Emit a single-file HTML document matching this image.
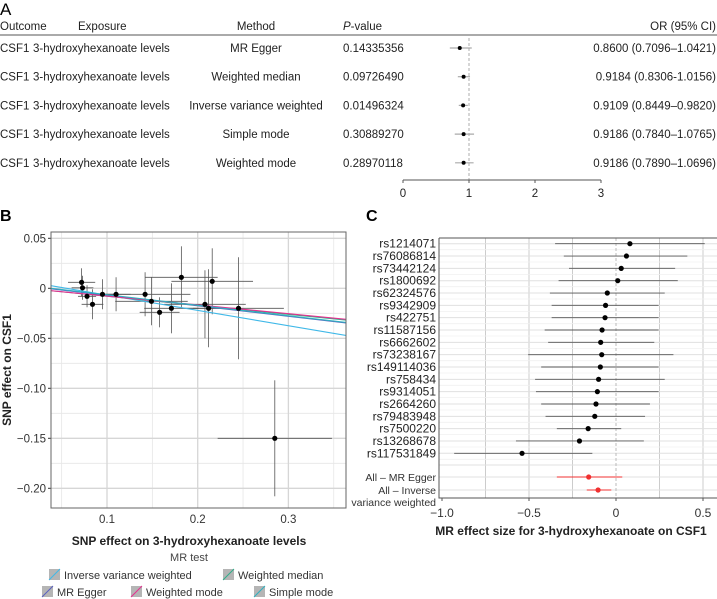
<!DOCTYPE html>
<html><head><meta charset="utf-8"><style>
html,body{margin:0;padding:0;background:#fff;}
svg{display:block;font-family:"Liberation Sans",sans-serif;}
</style></head><body>
<svg id="root" width="717" height="599" viewBox="0 0 717 599">
<g id="pa"></g>
<g id="pb"></g>
<g id="pc"></g>
</svg>
<script>
// ---- Panel A data ----
const aMethods = ["MR Egger","Weighted median","Inverse variance weighted","Simple mode","Weighted mode"];
const aPvals = ["0.14335356","0.09726490","0.01496324","0.30889270","0.28970118"];
const aOR = [0.8600,0.9184,0.9109,0.9186,0.9186];
const aLo = [0.7096,0.8306,0.8449,0.7840,0.7890];
const aHi = [1.0421,1.0156,0.9820,1.0765,1.0696];
const aCI = ["0.8600 (0.7096–1.0421)","0.9184 (0.8306-1.0156)","0.9109 (0.8449–0.9820)","0.9186 (0.7840–1.0765)","0.9186 (0.7890–1.0696)"];
const aTicks = [0,1,2,3];
// ---- Panel B data ----
const bX = [0.072,0.073,0.078,0.084,0.095,0.110,0.142,0.149,0.158,0.171,0.182,0.208,0.212,0.216,0.245,0.285];
const bY = [0.006,0.0005,-0.008,-0.016,-0.006,-0.006,-0.006,-0.013,-0.024,-0.020,0.011,-0.016,-0.020,0.007,-0.020,-0.150];
const bXse = [0.015,0.012,0.010,0.012,0.015,0.016,0.050,0.040,0.022,0.030,0.040,0.045,0.030,0.045,0.050,0.063];
const bYse = [0.014,0.012,0.011,0.015,0.015,0.017,0.022,0.024,0.015,0.025,0.031,0.034,0.039,0.033,0.051,0.058];
const bXTicks = [0.1,0.2,0.3];
const bYTicks = [0.05,0,-0.05,-0.10,-0.15,-0.20];
const bYTickLabels = ["0.05","0","−0.05","−0.10","−0.15","−0.20"];
const bLineNames = ["Inverse variance weighted","MR Egger","Weighted median","Weighted mode","Simple mode"];
const bLineIntercepts = [0.0085,0.0035,0.001,0.001,0.004];
const bLineSlopes = [-0.153,-0.105,-0.09,-0.088,-0.105];
const bLineColors = ["#3fb8e8","#5a5fc0","#2fae8a","#e6308f","#2fb0c0"];
// ---- Panel C data ----
const cSnps = ["rs1214071","rs76086814","rs73442124","rs1800692","rs62324576","rs9342909","rs422751","rs11587156","rs6662602","rs73238167","rs149114036","rs758434","rs9314051","rs2664260","rs79483948","rs7500220","rs13268678","rs117531849"];
const cEst = [0.08,0.06,0.03,0.01,-0.05,-0.06,-0.063,-0.08,-0.088,-0.082,-0.09,-0.10,-0.107,-0.115,-0.122,-0.16,-0.21,-0.54];
const cLo = [-0.35,-0.30,-0.27,-0.33,-0.38,-0.37,-0.37,-0.41,-0.39,-0.505,-0.43,-0.465,-0.46,-0.43,-0.405,-0.34,-0.575,-0.93];
const cHi = [0.51,0.41,0.34,0.355,0.28,0.245,0.245,0.245,0.22,0.33,0.245,0.28,0.245,0.195,0.167,0.03,0.16,-0.136];
const cSumEst = [-0.157,-0.103];
const cSumLo = [-0.34,-0.168];
const cSumHi = [0.036,-0.027];
const cXTicks = [-1.0,-0.5,0,0.5];
const cXTickLabels = ["−1.0","−0.5","0","0.5"];

const NS="http://www.w3.org/2000/svg";
function mk(parent,tag,attrs,text){const e=document.createElementNS(NS,tag);for(const k in attrs)e.setAttribute(k,attrs[k]);if(text!==undefined)e.textContent=text;parent.appendChild(e);return e;}

// ===== Panel A =====
const pa=document.getElementById('pa');
let t;
t=mk(pa,'text',{x:0,y:15,'font-size':17});t.textContent='A';

const hdr=[["Outcome",0,"start"],["Exposure",78,"start"],["Method",256,"middle"],["P-value",343,"start"],["OR (95% CI)",716,"end"]];
hdr.forEach(h=>{const e=mk(pa,'text',{x:h[1],y:30,'font-size':11.5,'text-anchor':h[2],fill:'#222'});
 if(h[0]==="P-value"){mk(e,'tspan',{'font-style':'italic'},'P');mk(e,'tspan',{},'-value');}else e.textContent=h[0];
 });
t=mk(pa,'line',{x1:0,x2:717,y1:35,y2:35,stroke:'#555','stroke-width':1});

const ax=v=>403+v*66;
const rowY=i=>48+i*28.7;
t=mk(pa,'line',{x1:ax(1),x2:ax(1),y1:38,y2:180,stroke:'#999','stroke-dasharray':'3,2','stroke-width':0.8});

aMethods.forEach((m,i)=>{const y=rowY(i);
 t=mk(pa,'text',{x:0,y:y+4,'font-size':11.5,fill:'#222'},'CSF1');
 t=mk(pa,'text',{x:33,y:y+4,'font-size':11.5,fill:'#222'},'3-hydroxyhexanoate levels');
 t=mk(pa,'text',{x:256,y:y+4,'font-size':11.5,'text-anchor':'middle',fill:'#222'},m);
 t=mk(pa,'text',{x:343,y:y+4,'font-size':11.5,fill:'#222'},aPvals[i]);
 t=mk(pa,'text',{x:716,y:y+4,'font-size':11.5,'text-anchor':'end',fill:'#222'},aCI[i]);
 t=mk(pa,'line',{x1:ax(aLo[i]),x2:ax(aHi[i]),y1:y,y2:y,stroke:'#aaa','stroke-width':1.2});
 t=mk(pa,'circle',{cx:ax(aOR[i]),cy:y,r:2,fill:'#000'});
});
t=mk(pa,'line',{x1:ax(0),x2:ax(3),y1:180,y2:180,stroke:'#555','stroke-width':1});
aTicks.forEach(v=>{mk(pa,'line',{x1:ax(v),x2:ax(v),y1:180,y2:183,stroke:'#555'});
 t=mk(pa,'text',{x:ax(v),y:197,'font-size':11.5,'text-anchor':'middle',fill:'#222'},String(v));});

// ===== Panel B =====
const pb=document.getElementById('pb');
t=mk(pb,'text',{x:0,y:221,'font-size':16,'font-weight':'bold'},'B');
const bL=51,bR=346,bT=232,bB=508;
const bx=v=>107+(v-0.1)*907;
const by=v=>288.3-v*1000;
mk(pb,'rect',{x:bL,y:bT,width:bR-bL,height:bB-bT,fill:'#fff'});
[0.05,0.15,0.25,0.35].forEach(v=>mk(pb,'line',{x1:bx(v),x2:bx(v),y1:bT,y2:bB,stroke:'#e6e6e6','stroke-width':0.8}));
[0.025,-0.025,-0.075,-0.125,-0.175].forEach(v=>mk(pb,'line',{x1:bL,x2:bR,y1:by(v),y2:by(v),stroke:'#e6e6e6','stroke-width':0.8}));
bXTicks.forEach(v=>{mk(pb,'line',{x1:bx(v),x2:bx(v),y1:bT,y2:bB,stroke:'#d6d6d6','stroke-width':1.3});
 t=mk(pb,'text',{x:bx(v),y:523,'font-size':11.5,'text-anchor':'middle',fill:'#333'},String(v));});
bYTicks.forEach((v,i)=>{mk(pb,'line',{x1:bL,x2:bR,y1:by(v),y2:by(v),stroke:'#d6d6d6','stroke-width':1.3});
 mk(pb,'line',{x1:bL-3,x2:bL,y1:by(v),y2:by(v),stroke:'#333'});
 t=mk(pb,'text',{x:bL-5,y:by(v)+4,'font-size':11.5,'text-anchor':'end',fill:'#333'},bYTickLabels[i]);});
mk(pb,'defs',{}).innerHTML='<clipPath id="cb"><rect x="51" y="232" width="295" height="276"/></clipPath>';
const gL=mk(pb,'g',{'clip-path':'url(#cb)'});
bX.forEach((x,i)=>{
 t=mk(gL,'line',{x1:bx(x-bXse[i]),x2:bx(x+bXse[i]),y1:by(bY[i]),y2:by(bY[i]),stroke:'#555','stroke-width':0.8});
 t=mk(gL,'line',{x1:bx(x),x2:bx(x),y1:by(bY[i]-bYse[i]),y2:by(bY[i]+bYse[i]),stroke:'#555','stroke-width':0.8});
});
const x0=0.03,x1=0.37;
bLineNames.forEach((n,i)=>{
 t=mk(gL,'line',{x1:bx(x0),x2:bx(x1),y1:by(bLineIntercepts[i]+bLineSlopes[i]*x0),y2:by(bLineIntercepts[i]+bLineSlopes[i]*x1),stroke:bLineColors[i],'stroke-width':1.1});
 });
bX.forEach((x,i)=>{t=mk(gL,'circle',{cx:bx(x),cy:by(bY[i]),r:2.6,fill:'#000'});});
t=mk(pb,'rect',{x:bL,y:bT,width:bR-bL,height:bB-bT,fill:'none',stroke:'#666','stroke-width':1});
t=mk(pb,'text',{x:189,y:545,'font-size':12,'font-weight':'bold','text-anchor':'middle',fill:'#222'},'SNP effect on 3-hydroxyhexanoate levels');
t=mk(pb,'text',{x:0,y:0,'font-size':12,'font-weight':'bold','text-anchor':'middle',fill:'#222',transform:'translate(11,370) rotate(-90)'},'SNP effect on CSF1');
t=mk(pb,'text',{x:189,y:561,'font-size':11,'text-anchor':'middle',fill:'#444'},'MR test');
const leg=[[49,575,0],[223,575,2],[42,592,1],[131,592,3],[254,592,4]];
leg.forEach(l=>{const g=mk(pb,'g',{});
 
 mk(g,'rect',{x:l[0],y:l[1]-6,width:11,height:11,fill:'#b5b5b5'});
 mk(g,'line',{x1:l[0],y1:l[1]+5,x2:l[0]+11,y2:l[1]-6,stroke:bLineColors[l[2]],'stroke-width':1});
 mk(g,'text',{x:l[0]+15,y:l[1]+4,'font-size':11,fill:'#333'},bLineNames[l[2]]);});

// ===== Panel C =====
const pc=document.getElementById('pc');
t=mk(pc,'text',{x:366,y:221,'font-size':16,'font-weight':'bold'},'C');
const cL=439,cR=717,cT=238,cB=498;
const cx=v=>616+v*174;
const cy=i=>243.7+i*12.33;
const sy=[477,490];
[-0.75,-0.5,-0.25,0.25,0.5].forEach(v=>mk(pc,'line',{x1:cx(v),x2:cx(v),y1:cT,y2:cB,stroke:'#ccc','stroke-width':1}));
cSnps.forEach((s,i)=>{mk(pc,'line',{x1:cL,x2:cR,y1:cy(i),y2:cy(i),stroke:'#e0e0e0','stroke-width':1});
 mk(pc,'line',{x1:cL,x2:cR,y1:cy(i)+6,y2:cy(i)+6,stroke:'#f0f0f0','stroke-width':0.8});});
mk(pc,'line',{x1:cL,x2:cR,y1:465,y2:465,stroke:'#e0e0e0'});
sy.forEach(y=>mk(pc,'line',{x1:cL,x2:cR,y1:y,y2:y,stroke:'#e0e0e0'}));
mk(pc,'line',{x1:cx(0),x2:cx(0),y1:cT,y2:cB,stroke:'#bbb','stroke-dasharray':'3,2'});
cSnps.forEach((s,i)=>{const y=cy(i);
 t=mk(pc,'line',{x1:cx(cLo[i]),x2:cx(cHi[i]),y1:y,y2:y,stroke:'#555','stroke-width':0.9});
 t=mk(pc,'circle',{cx:cx(cEst[i]),cy:y,r:2.6,fill:'#000'});
 t=mk(pc,'text',{x:436,y:y+4,'font-size':12,'text-anchor':'end',fill:'#222'},s);});
cSumEst.forEach((e,i)=>{
 t=mk(pc,'line',{x1:cx(cSumLo[i]),x2:cx(cSumHi[i]),y1:sy[i],y2:sy[i],stroke:'#f03030','stroke-width':1});
 t=mk(pc,'circle',{cx:cx(e),cy:sy[i],r:2.6,fill:'#f03030'});});
t=mk(pc,'text',{x:436,y:481,'font-size':10.5,'text-anchor':'end',fill:'#333'},'All – MR Egger');
t=mk(pc,'text',{x:436,y:494,'font-size':10.5,'text-anchor':'end',fill:'#333'},'All – Inverse');
t=mk(pc,'text',{x:436,y:506,'font-size':10.5,'text-anchor':'end',fill:'#333'},'variance weighted');
t=mk(pc,'polyline',{points:`${cL},${cT} ${cL},${cB} ${cR},${cB}`,fill:'none',stroke:'#555','stroke-width':1});
mk(pc,'line',{x1:cL,x2:cR,y1:cT,y2:cT,stroke:'#555','stroke-width':1});
cXTicks.forEach((v,i)=>{mk(pc,'line',{x1:cx(v),x2:cx(v),y1:cB,y2:cB+3,stroke:'#555'});
 t=mk(pc,'text',{x:cx(v),y:517,'font-size':12,'text-anchor':'middle',fill:'#333'},cXTickLabels[i]);});
t=mk(pc,'text',{x:571,y:535,'font-size':12,'font-weight':'bold','text-anchor':'middle',fill:'#222'},'MR effect size for 3-hydroxyhexanoate on CSF1');
</script>
</body></html>
